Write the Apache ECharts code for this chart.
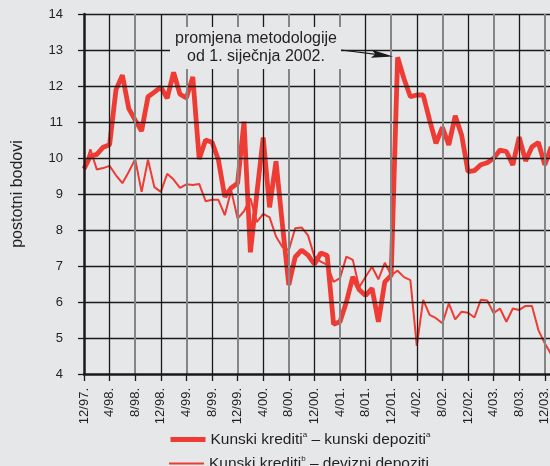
<!DOCTYPE html>
<html><head><meta charset="utf-8">
<script src="https://cdn.jsdelivr.net/npm/echarts@6/dist/echarts.min.js"></script>
<style>html,body{margin:0;padding:0;background:#e6e7e8;}#c{width:550px;height:466px;}</style>
</head><body><div id="c"></div>
<script>
// Month index 0 = 12/97
const tickLabels = ['12/97.','4/98.','8/98.','12/98.','4/99.','8/99.','12/99.','4/00.','8/00.','12/00.','4/01.','8/01.','12/01.','4/02.','8/02.','12/02.','4/03.','8/03.','12/03.'];
const yTicks = [4,5,6,7,8,9,10,11,12,13,14];
const kunskiKunski = [9.70,10.05,10.10,10.30,10.37,11.90,12.30,11.37,11.05,10.75,11.70,11.83,11.97,11.66,12.38,11.77,11.67,12.25,9.97,10.50,10.44,9.95,8.92,9.17,9.30,11.01,7.38,9.00,10.57,8.63,9.91,8.15,6.47,7.25,7.44,7.30,7.05,7.36,7.29,5.38,5.45,6.00,6.70,6.34,6.18,6.38,5.45,6.56,6.74,12.80,12.20,11.70,11.75,11.75,11.05,10.41,10.85,10.36,11.17,10.64,9.62,9.65,9.81,9.87,9.99,10.22,10.18,9.81,10.58,9.92,10.31,10.43,9.81,10.31];
const kunskiDevizni = [9.70,10.24,9.68,9.72,9.78,9.52,9.30,9.62,9.97,9.06,9.95,9.19,9.06,9.56,9.40,9.17,9.27,9.25,9.28,8.80,8.84,8.84,8.41,9.10,8.32,8.52,8.88,8.22,8.45,8.35,7.82,7.53,7.44,8.05,8.07,7.85,7.26,7.12,7.03,6.56,6.66,7.26,7.17,6.41,6.70,6.98,6.63,7.09,6.75,6.87,6.69,6.61,4.78,6.06,5.64,5.55,5.41,5.96,5.52,5.73,5.70,5.57,6.06,6.04,5.69,5.82,5.45,5.82,5.78,5.89,5.89,5.22,4.85,4.55];
const seriesNames = ['Kunski krediti a – kunski depoziti a','Kunski krediti b – devizni depoziti'];
const annotationText = 'promjena metodologije\nod 1. siječnja 2002.';
const arrowFrom = [40.2, 13.0];
const arrowTo = [46.6, 12.86];

const FONT = 'Liberation Sans, Arial, Helvetica, sans-serif';
const RED = '#ee3b33';
const BG = '#e6e7e8';
const TXT = '#231f20';
const DARK = '#1a1a1a';
const GRAY = '#858585';

const chart = echarts.init(document.getElementById('c'), null, {renderer:'canvas'});
const toPairs = arr => arr.map((v,i)=>[i,v]);

// grid lines through the library's scales (markLine on a helper series)
const gridLineData = [];
yTicks.forEach(v => {
  if (v === yTicks[0]) return;
  gridLineData.push({yAxis: v, lineStyle: {color: DARK, width: 1.3, type: 'solid'}});
});
tickLabels.forEach((lab, i) => {
  if (i === 0) return;
  const even = i % 2 === 0;
  gridLineData.push({xAxis: i * 4, lineStyle: {color: even ? GRAY : DARK, width: even ? 2 : 1.3, type: 'solid'}});
});

const richText = {
  t: {fontSize: 15.5, color: TXT, fontFamily: FONT, lineHeight: 17},
  s: {fontSize: 8, color: TXT, fontFamily: FONT, lineHeight: 17, verticalAlign: 'top'}
};
const legendFormatter = function(name){
  if (name === seriesNames[0]) return '{t|Kunski krediti}{s|a}{t| – kunski depoziti}{s|a}';
  return '{t|Kunski krediti}{s|b}{t| – devizni depoziti}';
};

const option = {
  backgroundColor: BG,
  animation: false,
  textStyle: {fontFamily: FONT},
  grid: {left: 84, top: 14, bottom: 92, right: -20.4, containLabel: false, outerBoundsMode: 'none'},
  xAxis: {
    type: 'value', min: 0, max: 76, interval: 4, z: 5,
    axisLine: {show: true, onZero: false, lineStyle: {color: DARK, width: 2.5}},
    axisTick: {show: true, length: 7, lineStyle: {color: DARK, width: 1.3}},
    axisLabel: {rotate: 90, margin: 14, fontSize: 13, color: TXT, fontFamily: FONT,
      formatter: v => (v % 4 === 0 && tickLabels[v/4]) ? tickLabels[v/4] : ''},
    splitLine: {show: false}
  },
  yAxis: {
    type: 'value', min: yTicks[0], max: yTicks[yTicks.length-1], interval: 1, z: 5,
    name: 'postotni bodovi', nameLocation: 'middle', nameGap: 58, nameRotate: 90,
    nameTextStyle: {fontSize: 16, color: TXT, fontFamily: FONT},
    axisLine: {show: true, onZero: false, lineStyle: {color: DARK, width: 2.5}},
    axisTick: {show: true, length: 6, lineStyle: {color: DARK, width: 1.3}},
    axisLabel: {margin: 21, fontSize: 13, color: TXT, fontFamily: FONT},
    splitLine: {show: false}
  },
  legend: [{
    left: 168, top: 431, itemWidth: 35, itemHeight: 14, padding: 0,
    data: [{name: seriesNames[0], itemStyle: {opacity: 0}, lineStyle: {width: 5}}],
    formatter: legendFormatter,
    textStyle: {color: TXT, fontFamily: FONT, rich: richText}
  },{
    left: 168, top: 455, itemWidth: 35, itemHeight: 14, padding: 0,
    data: [{name: seriesNames[1], itemStyle: {opacity: 0}, lineStyle: {width: 2}}],
    formatter: legendFormatter,
    textStyle: {color: TXT, fontFamily: FONT, rich: richText}
  }],
  series: [{
    name: 'gridlines', type: 'line', data: [], z: 1, silent: true,
    markLine: {
      silent: true, animation: false, symbol: ['none','none'], label: {show: false},
      emphasis: {disabled: true},
      data: gridLineData
    }
  },{
    name: seriesNames[0], type: 'line', data: toPairs(kunskiKunski), showSymbol: false, symbol: 'none',
    lineStyle: {color: RED, width: 4.8}, itemStyle: {color: RED}, z: 3
  },{
    name: seriesNames[1], type: 'line', data: toPairs(kunskiDevizni), showSymbol: false, symbol: 'none',
    lineStyle: {color: RED, width: 2}, itemStyle: {color: RED}, z: 3,
    markLine: {
      silent: true, animation: false,
      symbol: ['none', 'path://M4,0 L8,22 L4,18 L0,22 Z'], symbolSize: [8, 22], symbolKeepAspect: false,
      label: {show: false},
      lineStyle: {color: DARK, width: 1.2, type: 'solid'},
      itemStyle: {color: DARK},
      data: [[{coord: arrowFrom}, {coord: arrowTo}]]
    }
  }],
  graphic: [{
    type: 'group', z: 100,
    children: [{
      type: 'rect', shape: {x: 170, y: 27, width: 171, height: 42}, style: {fill: BG}, z: 100
    },{
      type: 'text', x: 256, y: 48, z: 101,
      style: {text: annotationText, align: 'center', verticalAlign: 'middle', fill: TXT,
        font: '16px ' + FONT, lineHeight: 18}
    }]
  }]
};
chart.setOption(option);
</script></body></html>
